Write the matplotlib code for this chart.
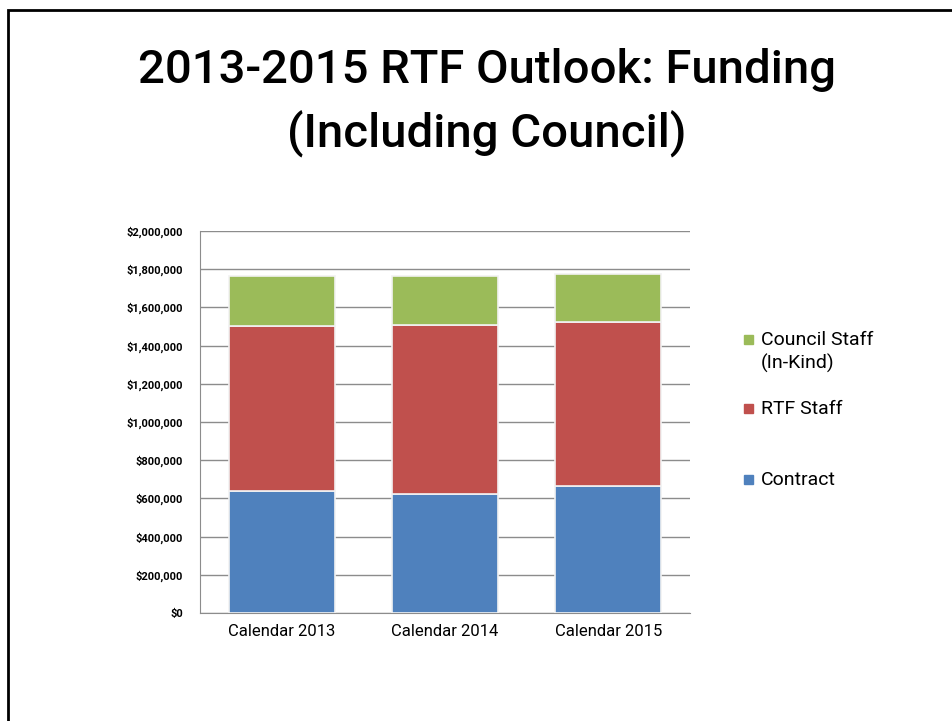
import matplotlib.pyplot as plt
import matplotlib.patches as patches
from matplotlib.ticker import FuncFormatter
import numpy as np

# Funding by calendar year (USD)
years = ['Calendar 2013', 'Calendar 2014', 'Calendar 2015']
contract = [640000, 623000, 665000]
rtf_staff = [862000, 885000, 858000]
council_staff = [262000, 256000, 252000]

series_names = ['Contract', 'RTF Staff', 'Council Staff\n(In-Kind)']
series_colors = ['#4F81BD', '#C0504D', '#9BBB59']

FONT = ['Roboto', 'DejaVu Sans']

fig = plt.figure(figsize=(9.53, 7.21), dpi=100)

# slide border (only top and left edges are visible in the crop)
fig.patches.append(patches.Rectangle((8 / 953, -0.1), 1.2, (721 - 10) / 721 + 0.1,
                                     transform=fig.transFigure, fill=False,
                                     edgecolor='black', linewidth=2))

fig.text(487 / 953, 0.903, '2013-2015 RTF Outlook: Funding', ha='center', va='center',
         fontsize=34, family=FONT, fontweight='medium')
fig.text(487 / 953, 0.814, '(Including Council)', ha='center', va='center',
         fontsize=34, family=FONT, fontweight='medium')

ax = fig.add_axes([200 / 953, 1 - 613 / 721, 490 / 953, 382 / 721])

x = np.arange(len(years))
width = 0.65
bottom = np.zeros(len(years))
for vals, name, col in zip([contract, rtf_staff, council_staff], series_names, series_colors):
    ax.bar(x, vals, width, bottom=bottom, color=col, edgecolor='#f2f2f2',
           linewidth=1.2, label=name, zorder=3)
    bottom += np.array(vals)

ax.set_xlim(-0.5, len(years) - 0.5)
ax.set_ylim(0, 2000000)
ax.set_yticks(np.arange(0, 2000001, 200000))
ax.yaxis.set_major_formatter(FuncFormatter(lambda v, p: f'${v:,.0f}'))
ax.yaxis.grid(True, color='#8c8c8c', linewidth=1, zorder=0)
ax.set_axisbelow(True)
ax.set_xticks(x)
ax.set_xticklabels(years, family=FONT, fontsize=12)
for lab in ax.get_yticklabels():
    lab.set_fontsize(8)
    lab.set_fontweight('bold')
    lab.set_family(FONT)
ax.tick_params(axis='both', length=0, pad=8)
ax.tick_params(axis='y', pad=12)
for s in ['top', 'right']:
    ax.spines[s].set_visible(False)
ax.spines['left'].set_color('#8c8c8c')
ax.spines['bottom'].set_color('#8c8c8c')

# legend, entries spaced evenly like the original (top entry = last series)
leg_y = [479, 408, 339]
for name, col, yp in zip(series_names, series_colors, leg_y):
    fy = 1 - yp / 721
    fig.patches.append(patches.Rectangle((744 / 953, fy - 4.5 / 721), 9 / 953, 9 / 721,
                                         transform=fig.transFigure, color=col))
    fig.text(761 / 953, fy + 8 / 721, name, ha='left', va='top', fontsize=14,
             family=FONT, linespacing=1.35)

fig.savefig('out.png', dpi=100)
